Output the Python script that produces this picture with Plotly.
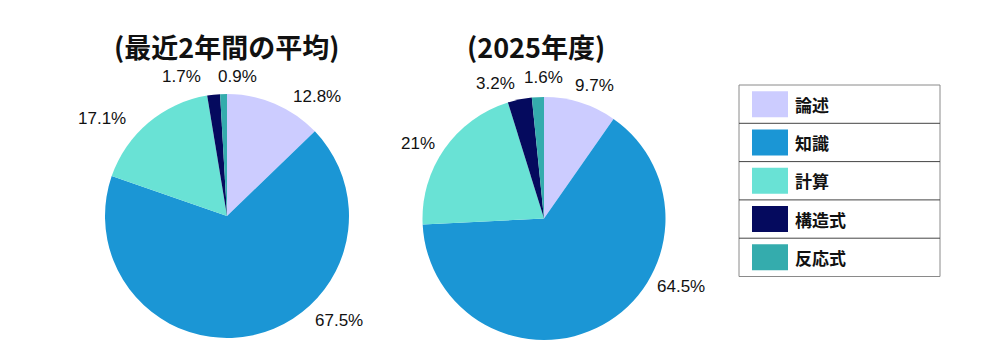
import plotly.graph_objects as go

categories = ["論述", "知識", "計算", "構造式", "反応式"]
avg_values = [12.8, 67.5, 17.1, 1.7, 0.9]
y2025_values = [9.7, 64.5, 21, 3.2, 1.6]
colors = ["#CCCCFF", "#1B96D5", "#69E2D5", "#050A5E", "#34ACAD"]
titles = ["(最近2年間の平均)", "(2025年度)"]

W, H = 1000, 361

# layout: pie centers/radii and hand-placed label positions (pixels)
pie_geom = [(227, 216, 122), (544, 218.5, 121.5)]
label_pos = [
    [(317, 96), (339, 320), (102, 118), (181, 77), (237, 77)],
    [(594, 86), (681, 286), (418, 143), (495, 83), (543, 78)],
]
title_pos = [(226, 46), (536, 46)]


def fmt(v):
    return f"{v:g}%"


def px(x, y):
    return x / W, 1 - y / H


def dom(cx, cy, r):
    return dict(x=[(cx - r) / W, (cx + r) / W], y=[1 - (cy + r) / H, 1 - (cy - r) / H])


label_font = dict(family="Liberation Sans, Arial, sans-serif", size=17, color="#111")

fig = go.Figure()
for vals, g, lp in zip([avg_values, y2025_values], pie_geom, label_pos):
    fig.add_trace(go.Pie(
        labels=categories, values=vals, text=[fmt(v) for v in vals],
        textinfo="none", sort=False, direction="clockwise",
        rotation=0, marker=dict(colors=colors, line=dict(width=0)),
        domain=dom(*g), showlegend=False, hoverinfo="label+text",
    ))
    for v, (x, y) in zip(vals, lp):
        ax, ay = px(x, y)
        fig.add_annotation(text=fmt(v), x=ax, y=ay, xref="paper", yref="paper",
                           showarrow=False, xanchor="center", yanchor="middle", font=label_font)

title_font = dict(family="Noto Sans CJK JP", size=27, color="#111")
for t, (x, y) in zip(titles, title_pos):
    ax, ay = px(x, y)
    fig.add_annotation(text=f"<b>{t}</b>", x=ax, y=ay, xref="paper", yref="paper",
                       showarrow=False, font=title_font, xanchor="center", yanchor="middle")

# custom legend
lx0, lx1, ly0, row_h = 739, 940, 85, 38.3
shapes = []
n = len(categories)
shapes.append(dict(type="rect", xref="paper", yref="paper", x0=lx0 / W, x1=lx1 / W,
                   y0=1 - (ly0 + n * row_h) / H, y1=1 - ly0 / H,
                   line=dict(color="#8a8a8a", width=1), fillcolor="rgba(0,0,0,0)"))
for i, (c, col) in enumerate(zip(categories, colors)):
    top = ly0 + i * row_h
    if i > 0:
        shapes.append(dict(type="line", xref="paper", yref="paper", x0=lx0 / W, x1=lx1 / W,
                           y0=1 - top / H, y1=1 - top / H, line=dict(color="#444", width=1)))
    mid = top + row_h / 2
    shapes.append(dict(type="rect", xref="paper", yref="paper", x0=752 / W, x1=788 / W,
                       y0=1 - (mid + 13) / H, y1=1 - (mid - 13) / H,
                       line=dict(width=0), fillcolor=col))
    fig.add_annotation(text=f"<b>{c}</b>", x=793 / W, y=1 - mid / H, xref="paper", yref="paper",
                       showarrow=False, xanchor="left", yanchor="middle",
                       font=dict(family="Noto Sans CJK JP", size=17, color="#111"))

fig.update_layout(width=W, height=H, margin=dict(l=0, r=0, t=0, b=0), shapes=shapes,
                  paper_bgcolor="white", plot_bgcolor="white", showlegend=False)
fig.write_html("out.html", config={"displayModeBar": False},
               post_script="document.body.style.margin='0';")
